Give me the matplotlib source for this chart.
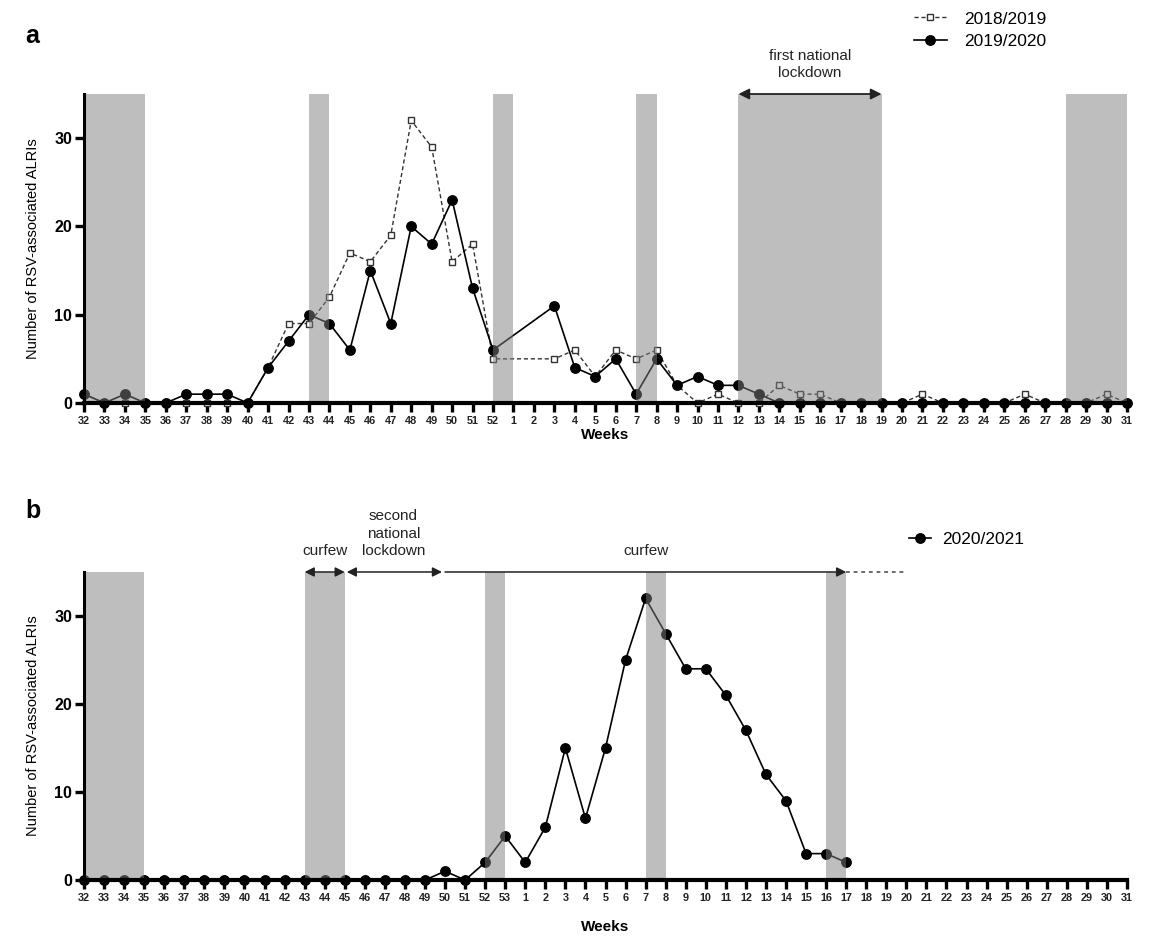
import numpy as np
import matplotlib
matplotlib.use('Agg')
import matplotlib.pyplot as plt

plt.rcParams['font.family'] = ['Liberation Sans', 'DejaVu Sans']

# week labels
weeks_a = [str(w) for w in range(32, 53)] + [str(w) for w in range(1, 32)]
weeks_b = [str(w) for w in range(32, 54)] + [str(w) for w in range(1, 32)]

# panel a data (None = no data)
s1819 = [1, 0, 0, 0, 0, 0, 0, 0, 0, 4, 9, 9, 12, 17, 16, 19, 32, 29, 16, 18, 5,
         None, None, 5, 6, 3, 6, 5, 6, 2, 0, 1, 0, 0, 2, 1, 1, 0, 0, 0,
         0, 1, 0, 0, 0, 0, 1, 0, 0, 0, 1, 0]
s1920 = [1, 0, 1, 0, 0, 1, 1, 1, 0, 4, 7, 10, 9, 6, 15, 9, 20, 18, 23, 13, 6,
         None, None, 11, 4, 3, 5, 1, 5, 2, 3, 2, 2, 1, 0, 0, 0, 0, 0, 0,
         0, 0, 0, 0, 0, 0, 0, 0, 0, 0, 0, 0]
# panel b data
s2021 = [0, 0, 0, 0, 0, 0, 0, 0, 0, 0, 0, 0, 0, 0, 0, 0, 0, 0, 1, 0, 2, 5,
         2, 6, 15, 7, 15, 25, 32, 28, 24, 24, 21, 17, 12, 9, 3, 3, 2]

# shaded holiday periods (first week label, last week label)
shade_a = [('32', '35'), ('43', '44'), ('52', '1'), ('7', '8'), ('12', '19'), ('28', '31')]
shade_b = [('32', '35'), ('43', '45'), ('52', '53'), ('7', '8'), ('16', '17')]


def idx(weeks, w):
    return weeks.index(w)


def valid(vals):
    x = [i for i, v in enumerate(vals) if v is not None]
    y = [v for v in vals if v is not None]
    return x, y


def style_axes(ax, weeks, xpad):
    ax.set_xlim(0, len(weeks) - 1)
    ax.set_ylim(0, 35)
    for s in ['top', 'right']:
        ax.spines[s].set_visible(False)
    ax.spines['bottom'].set_linewidth(3.0)
    ax.spines['left'].set_linewidth(2.2)
    ax.set_xticks(range(len(weeks)))
    ax.set_xticklabels(weeks, fontsize=7.8, fontweight='bold', color='#222')
    ax.set_yticks([0, 10, 20, 30])
    ax.tick_params(axis='x', length=6.5, width=2.4, pad=3)
    ax.tick_params(axis='y', length=6.5, width=2.4, labelsize=11.5, pad=2)
    for lab in ax.get_yticklabels():
        lab.set_fontweight('bold')
    ax.set_xlabel('Weeks', fontsize=11, fontweight='bold', labelpad=xpad)
    ax.set_ylabel('Number of RSV-associated ALRIs', fontsize=10.5, labelpad=10)


fig = plt.figure(figsize=(11.54, 9.42), dpi=100)
axa = fig.add_axes([0.0728, 0.5722, 0.9038, 0.328])
axb = fig.add_axes([0.0728, 0.0658, 0.9038, 0.327])

# ---- panel a
for a, b in shade_a:
    axa.axvspan(idx(weeks_a, a), idx(weeks_a, b), color='#7f7f7f', alpha=0.5, lw=0, zorder=2.2)
x, y = valid(s1819)
axa.plot(x, y, color='#333333', lw=1.0, ls=(0, (3, 2)), marker='s', ms=5,
         mfc='white', mec='#333333', mew=1.0, clip_on=False, zorder=2, label='2018/2019')
x, y = valid(s1920)
axa.plot(x, y, color='black', lw=1.2, marker='o', ms=6.8, clip_on=False, zorder=2.1,
         label='2019/2020')
style_axes(axa, weeks_a, 1.5)

i0, i1 = idx(weeks_a, '12'), idx(weeks_a, '19')
axa.annotate('', xy=(i0, 35), xytext=(i1, 35), annotation_clip=False,
             arrowprops=dict(arrowstyle='<|-|>', color='#222', lw=1.3, mutation_scale=16,
                             shrinkA=0, shrinkB=0))
axa.text((i0 + i1) / 2, 36.6, 'first national\nlockdown', ha='center', va='bottom',
         fontsize=11, color='#222', linespacing=1.3, clip_on=False)
axa.legend(loc='upper left', bbox_to_anchor=(0.789, 1.29), frameon=False, fontsize=12.5,
           handlelength=1.9, handletextpad=1.0, labelspacing=0.45, borderaxespad=0)
fig.text(0.022, 0.962, 'a', fontsize=18, fontweight='bold', va='center')

# ---- panel b
for a, b in shade_b:
    axb.axvspan(idx(weeks_b, a), idx(weeks_b, b), color='#7f7f7f', alpha=0.5, lw=0, zorder=2.2)
x, y = valid(s2021)
axb.plot(x, y, color='black', lw=1.2, marker='o', ms=6.8, clip_on=False, zorder=2.1,
         label='2020/2021')
style_axes(axb, weeks_b, 12)

c0, c1 = idx(weeks_b, '43'), idx(weeks_b, '45')
l1 = idx(weeks_b, '49') + 0.85
k0 = idx(weeks_b, '50')
k1 = idx(weeks_b, '17')
k2 = idx(weeks_b, '20')
arrow_kw = dict(color='#222', lw=1.1, mutation_scale=14, shrinkA=0, shrinkB=0)
axb.annotate('', xy=(c0, 35), xytext=(c1, 35), annotation_clip=False,
             arrowprops=dict(arrowstyle='<|-|>', **arrow_kw))
axb.annotate('', xy=(c1 + 0.1, 35), xytext=(l1, 35), annotation_clip=False,
             arrowprops=dict(arrowstyle='<|-|>', **arrow_kw))
axb.annotate('', xy=(k0, 35), xytext=(k1, 35), annotation_clip=False,
             arrowprops=dict(arrowstyle='<|-', **arrow_kw))
axb.plot([k1, k2], [35, 35], color='#444', lw=1.1, ls=(0, (2.5, 2.5)), clip_on=False)
axb.text((c0 + c1) / 2, 36.6, 'curfew', ha='center', va='bottom', fontsize=11,
         color='#222', clip_on=False)
axb.text((c1 + l1) / 2, 36.6, 'second\nnational\nlockdown', ha='center', va='bottom',
         fontsize=11, color='#222', linespacing=1.3, clip_on=False)
axb.text(28, 36.6, 'curfew', ha='center', va='bottom', fontsize=11, color='#222',
         clip_on=False)
axb.legend(loc='center left', bbox_to_anchor=(0.784, 1.105), frameon=False, fontsize=12.5,
           handlelength=1.3, handletextpad=0.6, borderaxespad=0)
fig.text(0.022, 0.458, 'b', fontsize=18, fontweight='bold', va='center')

fig.savefig('out.png', dpi=100)
